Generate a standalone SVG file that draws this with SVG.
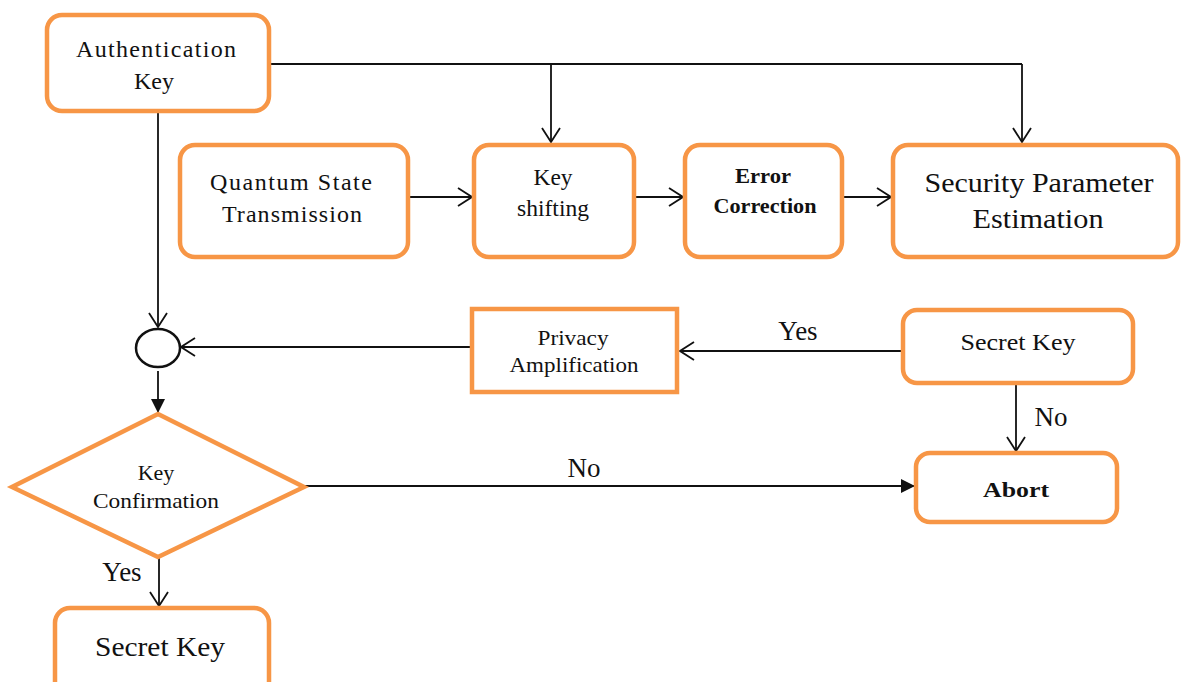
<svg xmlns="http://www.w3.org/2000/svg" width="1182" height="682" viewBox="0 0 1182 682">
<style>
.box{fill:#fff;stroke:#F79646;stroke-width:4.5}
.ln{fill:none;stroke:#111;stroke-width:1.8}
.t{font-family:"Liberation Serif","Times New Roman",serif;fill:#111;text-anchor:middle}
.b{font-weight:bold}
.lbl{font-size:27px}
</style>
<defs>
<marker id="open" markerUnits="userSpaceOnUse" viewBox="0 0 16 20" refX="15" refY="10" markerWidth="16" markerHeight="20" orient="auto">
<path d="M1,1 L15,10 L1,19" fill="none" stroke="#111" stroke-width="1.8"/>
</marker>
<marker id="fill" markerUnits="userSpaceOnUse" viewBox="0 0 14 14" refX="13" refY="7" markerWidth="14" markerHeight="14" orient="auto">
<path d="M0,0 L14,7 L0,14 Z" fill="#111"/>
</marker>
</defs>
<rect width="1182" height="682" fill="#fff"/>
<g id="connectors">
<path class="ln" d="M269,64 H1022"/>
<path class="ln" d="M551,64 V142" marker-end="url(#open)"/>
<path class="ln" d="M1022,64 V142" marker-end="url(#open)"/>
<path class="ln" d="M408,197 H472" marker-end="url(#open)"/>
<path class="ln" d="M634,197 H683" marker-end="url(#open)"/>
<path class="ln" d="M842,197 H891" marker-end="url(#open)"/>
<path class="ln" d="M158,111 V327" marker-end="url(#open)"/>
<path class="ln" d="M472,347 H181" marker-end="url(#open)"/>
<path class="ln" d="M158,371 V412" marker-end="url(#fill)"/>
<path class="ln" d="M903,351 H680" marker-end="url(#open)"/>
<path class="ln" d="M1016,384 V451" marker-end="url(#open)"/>
<path class="ln" d="M305,486 H914" marker-end="url(#fill)"/>
<path class="ln" d="M159,558 V606" marker-end="url(#open)"/>
<text class="t lbl" x="798" y="340">Yes</text>
<text class="t lbl" x="1051" y="426">No</text>
<text class="t lbl" x="584" y="477">No</text>
<text class="t lbl" x="122" y="581">Yes</text>
</g>
<g id="auth">
<rect class="box" x="47" y="15" width="222" height="96" rx="15"/>
<text class="t" x="156" y="57" font-size="24" textLength="160" lengthAdjust="spacing">Authentication</text>
<text class="t" x="154" y="89" font-size="24">Key</text>
</g>
<g id="qst">
<rect class="box" x="180" y="145" width="228" height="112" rx="15"/>
<text class="t" x="291" y="190" font-size="24" textLength="162" lengthAdjust="spacing">Quantum State</text>
<text class="t" x="292" y="222" font-size="24" textLength="140" lengthAdjust="spacing">Transmission</text>
</g>
<g id="shift">
<rect class="box" x="474" y="145" width="160" height="112" rx="15"/>
<text class="t" x="553" y="185" font-size="23" textLength="39" lengthAdjust="spacingAndGlyphs">Key</text>
<text class="t" x="553" y="216" font-size="23" textLength="72" lengthAdjust="spacingAndGlyphs">shifting</text>
</g>
<g id="error">
<rect class="box" x="685" y="145" width="157" height="112" rx="15"/>
<text class="t b" x="763" y="183" font-size="20" textLength="56" lengthAdjust="spacingAndGlyphs">Error</text>
<text class="t b" x="765" y="213" font-size="20" textLength="103" lengthAdjust="spacingAndGlyphs">Correction</text>
</g>
<g id="security">
<rect class="box" x="893" y="145" width="285" height="112" rx="15"/>
<text class="t" x="1039" y="192" font-size="28" textLength="229" lengthAdjust="spacingAndGlyphs">Security Parameter</text>
<text class="t" x="1038" y="228" font-size="28" textLength="131" lengthAdjust="spacingAndGlyphs">Estimation</text>
</g>
<g id="junction">
<ellipse cx="158" cy="348" rx="22" ry="19" fill="#fff" stroke="#111" stroke-width="2.5"/>
</g>
<g id="privacy">
<rect class="box" x="472" y="309" width="205" height="83"/>
<text class="t" x="573" y="345" font-size="22" textLength="71" lengthAdjust="spacingAndGlyphs">Privacy</text>
<text class="t" x="574" y="372" font-size="22" textLength="129" lengthAdjust="spacingAndGlyphs">Amplification</text>
</g>
<g id="secret-right">
<rect class="box" x="903" y="310" width="230" height="73" rx="14"/>
<text class="t" x="1018" y="350" font-size="23" textLength="115" lengthAdjust="spacingAndGlyphs">Secret Key</text>
</g>
<g id="abort">
<rect class="box" x="916" y="453" width="201" height="69" rx="14"/>
<text class="t b" x="1016" y="497" font-size="22" textLength="66" lengthAdjust="spacingAndGlyphs">Abort</text>
</g>
<g id="confirm">
<polygon class="box" points="158,414 304,487 158,557 12,487"/>
<text class="t" x="156" y="480" font-size="22">Key</text>
<text class="t" x="156" y="508" font-size="22" textLength="126" lengthAdjust="spacingAndGlyphs">Confirmation</text>
</g>
<g id="secret-bottom">
<rect class="box" x="55" y="608" width="214" height="90" rx="15"/>
<text class="t" x="160" y="656" font-size="27" textLength="130" lengthAdjust="spacingAndGlyphs">Secret Key</text>
</g>
</svg>
